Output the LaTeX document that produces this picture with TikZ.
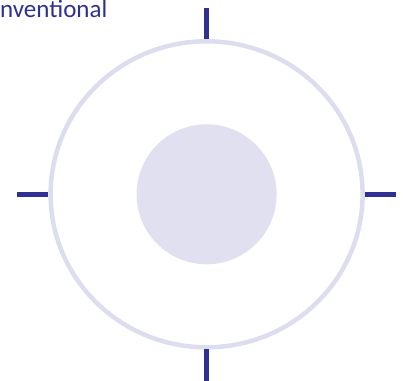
\documentclass[tikz,border=0pt]{standalone}
\usepackage{fontspec}
\setmainfont{Carlito}
\definecolor{markblue}{HTML}{2E3192}
\definecolor{ringgray}{HTML}{DDDDF0}
\definecolor{corefill}{HTML}{E0E0F1}
\tikzset{
  ringline/.style={draw=ringgray, line width=4.5pt},
  corearea/.style={fill=corefill},
  tickline/.style={draw=markblue, line width=5.5pt},
  caption/.style={text=markblue, font=\fontsize{25}{30}\selectfont, inner sep=0pt, anchor=base west}
}

\begin{document}
\begin{tikzpicture}[x=1pt,y=-1pt]
    \useasboundingbox (0,0) rectangle (403,380);
    \coordinate (ctr) at (206.6,194.3);

    % --- Core disc and ring ---
    \fill[corearea] (ctr) circle (70);
    \draw[ringline] (ctr) ellipse [x radius=156, y radius=153];

    % --- Ticks at the four sides ---
    \coordinate (topA) at (206.6,8);   \coordinate (topB) at (206.6,39);
    \coordinate (botA) at (206.6,349); \coordinate (botB) at (206.6,382);
    \coordinate (lftA) at (17,194.3);  \coordinate (lftB) at (48,194.3);
    \coordinate (rgtA) at (365,194.3); \coordinate (rgtB) at (396,194.3);
    \foreach \p in {top,bot,lft,rgt} {
      \draw[tickline] (\p A) -- (\p B);
    }

    % Label
    \node[caption] (lbl) at (0,17.2) {nventional};
  \end{tikzpicture}
\end{document}
